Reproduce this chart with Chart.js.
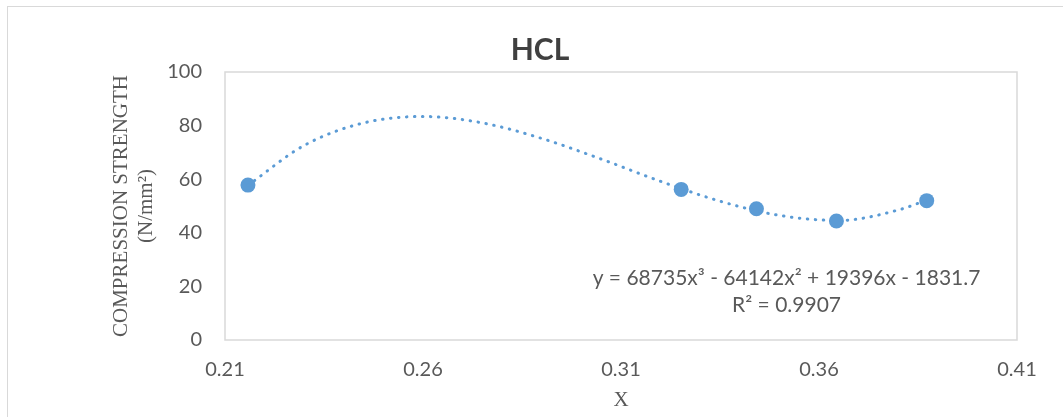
<!DOCTYPE html>
<html>
<head>
<meta charset="utf-8">
<script src="https://cdn.jsdelivr.net/npm/chart.js@4"></script>
<style>
    body { margin: 0; background: #fff; }
    #wrap { position: relative; width: 1063px; height: 417px; }
    #frame { position: absolute; left: 7px; top: 6px; width: 1070px; height: 420px; border: 1px solid #d9d9d9; }
    canvas { position: absolute; left: 0; top: 0; }
</style>
</head>
<body>
<div id="wrap">
    <div id="frame"></div>
    <canvas id="myChart" width="1063" height="417"></canvas>
</div>
<script>
// Measured points
const xValues = [0.2158, 0.3252, 0.3442, 0.3644, 0.3872];
const yValues = [57.8, 56.2, 49.0, 44.4, 52.0];

// Dotted trendline
const trendX = [0.2158, 0.23, 0.245, 0.26, 0.275, 0.29, 0.305, 0.32, 0.335, 0.35, 0.365, 0.38, 0.3872];
const trendY = [57.7, 72.6, 81.0, 83.4, 81.0, 75.2, 67.5, 59.2, 51.8, 46.5, 44.6, 48.5, 52.2];

const equationLines = ['y = 68735x\u00b3 - 64142x\u00b2 + 19396x - 1831.7', 'R\u00b2 = 0.9907'];
const equationPos = { x: 0.3518, y: 22.9 }; // data coords of line 1 centre

const blue = '#5b9bd5';
const gray = '#595959';

// Draws plot-area box and the trendline equation
const extras = {
    id: 'extras',
    beforeDatasetsDraw(chart) {
        const a = chart.chartArea;
        const c = chart.ctx;
        c.save();
        c.strokeStyle = '#d9d9d9';
        c.lineWidth = 1.5;
        c.strokeRect(a.left, a.top, a.right - a.left, a.bottom - a.top);
        c.restore();
    },
    afterDatasetsDraw(chart) {
        const c = chart.ctx;
        const px = chart.scales.x.getPixelForValue(equationPos.x);
        const py = chart.scales.y.getPixelForValue(equationPos.y);
        c.save();
        c.fillStyle = gray;
        c.font = '21px Lato';
        c.textAlign = 'center';
        c.textBaseline = 'middle';
        equationLines.forEach((t, i) => c.fillText(t, px, py + i * 27));
        c.restore();
    }
};

let ctx = document.getElementById('myChart').getContext('2d');
let myChart = new Chart(ctx, {
    type: 'scatter',
    data: {
        datasets: [
            {
                label: 'Trend',
                data: trendX.map((x, i) => ({ x: x, y: trendY[i] })),
                showLine: true,
                borderColor: blue,
                borderWidth: 3,
                borderDash: [0.5, 7.5],
                borderCapStyle: 'round',
                cubicInterpolationMode: 'monotone',
                pointRadius: 0,
                fill: false
            },
            {
                label: 'HCL',
                data: xValues.map((x, i) => ({ x: x, y: yValues[i] })),
                backgroundColor: blue,
                borderColor: blue,
                pointRadius: 7.5,
                pointBorderWidth: 0
            }
        ]
    },
    options: {
        responsive: false,
        animation: false,
        layout: {
            padding: { top: 0, right: 46, bottom: 0, left: 63 }
        },
        plugins: {
            legend: { display: false },
            tooltip: { enabled: false },
            title: {
                display: true,
                text: 'HCL',
                color: '#404040',
                font: { family: 'Lato', size: 30, weight: 'bold', lineHeight: 1.2 },
                padding: { top: 32, bottom: 4 }
            }
        },
        scales: {
            x: {
                type: 'linear',
                min: 0.21,
                max: 0.41,
                grid: { display: false, drawTicks: false },
                border: { display: false },
                ticks: {
                    stepSize: 0.05,
                    padding: 18,
                    color: gray,
                    font: { family: 'Lato', size: 20 },
                    callback: function(value) {
                        return value.toFixed(2);
                    }
                },
                title: {
                    display: true,
                    text: 'X',
                    color: gray,
                    font: { family: 'Liberation Serif', size: 21, lineHeight: 1.2 },
                    padding: { top: 0, bottom: 4 }
                },
                afterFit: function(scale) { scale.height = 77; }
            },
            y: {
                min: 0,
                max: 100,
                grid: { display: false, drawTicks: false },
                border: { display: false },
                ticks: {
                    stepSize: 20,
                    padding: 23,
                    color: gray,
                    font: { family: 'Lato', size: 20 }
                },
                title: {
                    display: true,
                    text: ['COMPRESSION STRENGTH', '(N/mm\u00b2)'],
                    color: gray,
                    font: { family: 'Liberation Serif', size: 21, lineHeight: 1.2 },
                    padding: { top: 46, bottom: 0 }
                },
                afterFit: function(scale) { scale.width = 162; }
            }
        }
    },
    plugins: [extras]
});
</script>
</body>
</html>
